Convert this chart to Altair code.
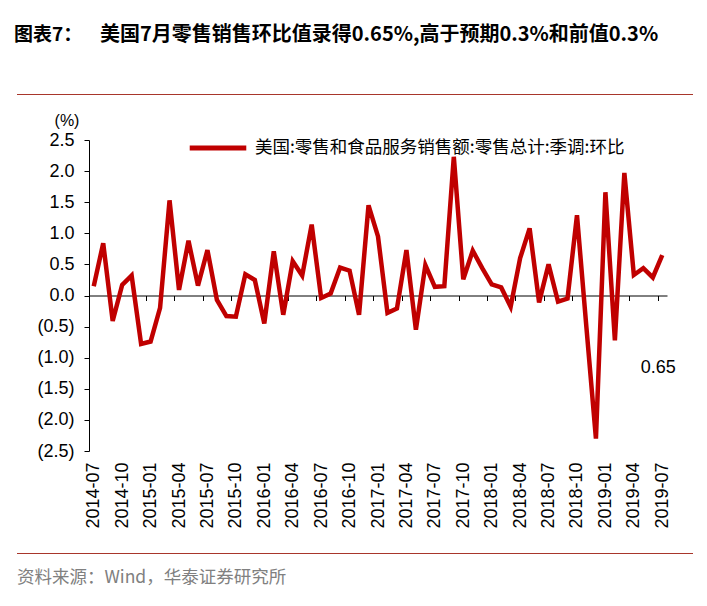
import altair as alt
import pandas as pd

months = [f"{y}-{m:02d}" for y in range(2014, 2020) for m in range(1, 13)]
months = months[months.index("2014-07"):months.index("2019-07") + 1]

values = [0.15, 0.84, -0.41, 0.17, 0.32, -0.78, -0.74, -0.20, 1.53, 0.09,
          0.88, 0.16, 0.73, -0.07, -0.33, -0.34, 0.34, 0.25, -0.45, 0.71,
          -0.31, 0.55, 0.32, 1.14, -0.04, 0.03, 0.45, 0.40, -0.31, 1.45,
          0.95, -0.28, -0.21, 0.73, -0.55, 0.49, 0.14, 0.15, 2.23, 0.26,
          0.72, 0.44, 0.18, 0.13, -0.18, 0.60, 1.08, -0.11, 0.50, -0.10,
          -0.05, 1.29, -0.52, -2.30, 1.66, -0.72, 1.97, 0.33, 0.44, 0.29,
          0.65]

series_name = "美国:零售和食品服务销售额:零售总计:季调:环比"
label_months = months[::3]
y_ticks = [2.5, 2.0, 1.5, 1.0, 0.5, 0.0, -0.5, -1.0, -1.5, -2.0, -2.5]

title_lead = "图表7："
title_rest = "美国7月零售销售环比值录得0.65%,高于预期0.3%和前值0.3%"
source_text = "资料来源：Wind，华泰证券研究所"

df = pd.DataFrame({"month": months, "value": values, "series": series_name})

W, H = 578, 311
step = W / len(months)
RED = "#c00000"
CJK = "Noto Sans CJK SC"
LAT = "Liberation Sans"

x_scale = alt.Scale(type="point", padding=0.5)
y_scale = alt.Scale(domain=[-2.5, 2.5], nice=False, zero=False)

y_axis = alt.Axis(
    orient="left", values=y_ticks, title=None, grid=False, domainColor="black",
    tickColor="black", tickSize=5, labelPadding=10, labelFont=LAT, labelFontSize=18,
    labelColor="black", labelOverlap=False, labelBound=False,
    labelExpr="datum.value < 0 ? '(' + format(-datum.value, '.1f') + ')' : format(datum.value, '.1f')",
)

bottom_axis = alt.Axis(
    orient="bottom", values=label_months, title=None, domain=False, ticks=False,
    tickSize=0, labelAngle=270, labelPadding=11, labelFont=LAT, labelFontSize=18,
    labelColor="black", labelOverlap=False, grid=False,
)

zero_axis = alt.Axis(
    orient="bottom", values=label_months, title=None, labels=False, domain=True,
    domainColor="black", ticks=True, tickSize=5, tickColor="black",
    tickOffset=-step / 2, offset=-H / 2, grid=False,
)

base = alt.Chart(df)

zero_layer = base.mark_line(strokeOpacity=0).encode(
    x=alt.X("month:O", scale=x_scale, axis=zero_axis, sort=None),
    y=alt.Y("value:Q", scale=y_scale, axis=y_axis),
)

line = base.mark_line(strokeWidth=4.5, strokeJoin="miter").encode(
    x=alt.X("month:O", scale=x_scale, axis=bottom_axis, sort=None),
    y=alt.Y("value:Q", scale=y_scale, axis=y_axis),
    color=alt.Color(
        "series:N",
        scale=alt.Scale(range=[RED]),
        legend=alt.Legend(
            title=None, orient="none", legendX=98, legendY=-23,
            symbolType="stroke", symbolSize=3200, symbolStrokeWidth=5,
            labelFont=CJK, labelFontSize=17.5, labelColor="black",
            labelLimit=600, labelOffset=6,
        ),
    ),
)

last_df = df.tail(1).copy()
last_df["label"] = last_df["value"].map(lambda v: f"{v:.2f}")
annot = alt.Chart(last_df).mark_text(
    font=LAT, fontSize=18, color="black", align="center", baseline="middle", dx=-4
).encode(
    x=alt.X("month:O", scale=x_scale, sort=None, axis=None),
    y=alt.YDatum(-1.16, scale=y_scale, axis=y_axis),
    text="label:N",
)

def txt(text, x, y, size, color="black", weight="normal", font=CJK, align="left"):
    return alt.Chart(pd.DataFrame({"t": [text]})).mark_text(
        font=font, fontSize=size, color=color, fontWeight=weight,
        align=align, baseline="middle",
    ).encode(x=alt.value(x), y=alt.value(y), text="t:N")

title1 = txt(title_lead, -75, -105, 19, weight="bold")
title2 = txt(title_rest, 11, -105, 20, weight="bold")
pct = txt("(%)", -22, -19, 16, font=LAT, align="center")
source = txt(source_text, -72, 438, 17.5, color="#808080")

rule_top = alt.Chart(pd.DataFrame({"a": [0]})).mark_rule(color="#a8362b", strokeWidth=1.2).encode(
    x=alt.value(-72), x2=alt.value(604), y=alt.value(-45.5)
)
rule_bot = alt.Chart(pd.DataFrame({"a": [0]})).mark_rule(color="#a8362b", strokeWidth=1.2).encode(
    x=alt.value(-72), x2=alt.value(604), y=alt.value(413.5)
)

chart = alt.layer(
    zero_layer, line, annot, title1, title2, pct, source, rule_top, rule_bot
).resolve_axis(x="independent").properties(
    width=W, height=H,
    padding={"left": 81, "top": 132, "right": 28, "bottom": 140},
    autosize=alt.AutoSizeParams(type="none"),
    background="white",
).configure_view(stroke=None).configure_axisY(labelOverlap=False, labelBound=False)

chart.save("out.html", embed_options={"renderer": "svg", "actions": False})
